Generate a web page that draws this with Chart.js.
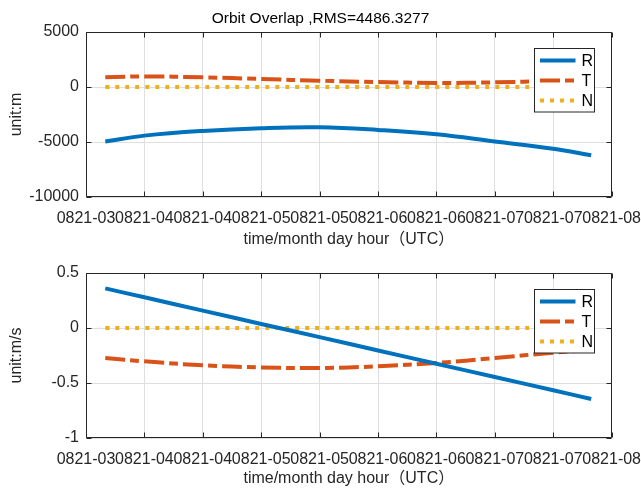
<!DOCTYPE html>
<html><head><meta charset="utf-8">
<script src="https://cdn.jsdelivr.net/npm/chart.js@4.4.0/dist/chart.umd.min.js"></script>
<style>
html,body{margin:0;padding:0;background:#fff;overflow:hidden;width:641px;height:488px}
canvas{display:block;position:absolute;left:0}
#c1{top:0}
#c2{top:249px}
</style></head>
<body>
<canvas id="c1" width="641" height="249"></canvas>
<canvas id="c2" width="641" height="239"></canvas>
<script>
// ---- data ----
const xTickLabels = ['0821-03','0821-04','0821-04','0821-05','0821-05','0821-06','0821-06','0821-07','0821-07','0821-08'];
const hours = [3.665, 4.0, 4.5, 5.0, 5.5, 6.0, 6.5, 7.0, 7.5, 7.825];
const posR = [-4950, -4420, -3990, -3740, -3660, -3900, -4290, -4950, -5620, -6210];
const posT = [880, 960, 880, 730, 570, 455, 370, 420, 560, 700];
const posN = [0, 0, 0, 0, 0, 0, 0, 0, 0, 0];
const velR = [0.36, 0.279, 0.158, 0.037, -0.083, -0.204, -0.325, -0.446, -0.566, -0.645];
const velT = [-0.273, -0.303, -0.339, -0.358, -0.364, -0.348, -0.318, -0.273, -0.224, -0.2];
const velN = [0, 0, 0, 0, 0, 0, 0, 0, 0, 0];
const posTickLabels = ['-10000', '-5000', '0', '5000'];
const velTickLabels = ['-1', '-0.5', '0', '0.5'];
const seriesNames = ['R', 'T', 'N'];
const titleText = 'Orbit Overlap ,RMS=4486.3277';
const xTitle = 'time/month day hour（UTC）';

const FONT = "'Liberation Sans', Arial, 'Noto Sans CJK SC', sans-serif";
const INK = '#262626';
const COLORS = ['#0072BD', '#D95319', '#EDB120'];
const DASHES = [[], [20, 5, 9, 5], [4, 6]];

function pts(ys){ return hours.map((h,i)=>({x:h, y:ys[i]})); }
function makeDatasets(arrs){
  return arrs.map((a,i)=>({
    label: seriesNames[i], data: pts(a), borderColor: COLORS[i], backgroundColor: COLORS[i],
    borderWidth: 4, borderDash: DASHES[i], borderCapStyle: 'butt', pointRadius: 0,
    tension: 0.4, fill: false
  }));
}

const boxPlugin = {
  id: 'matlabBox',
  afterDatasetsDraw(chart){
    const {ctx, chartArea:a} = chart;
    const bw = 60, bh = 63.5;
    const bl = Math.round(a.right - 18 - bw) + 0.5, bt = Math.round(a.top + 16) + 0.5;
    ctx.save();
    ctx.fillStyle = '#fff';
    ctx.fillRect(bl, bt, bw, bh);
    ctx.strokeStyle = INK; ctx.lineWidth = 1; ctx.setLineDash([]);
    ctx.strokeRect(bl, bt, bw, bh);
    chart.data.datasets.forEach((ds,i)=>{
      const yy = bt + 12 + i*20;
      ctx.beginPath();
      ctx.strokeStyle = ds.borderColor; ctx.lineWidth = ds.borderWidth; ctx.lineCap = 'butt';
      ctx.setLineDash(ds.borderDash);
      ctx.moveTo(bl + 5.5, yy); ctx.lineTo(bl + 41, yy); ctx.stroke();
      ctx.setLineDash([]);
      ctx.fillStyle = '#000'; ctx.font = '16px ' + FONT; ctx.textBaseline = 'middle'; ctx.textAlign = 'left';
      ctx.fillText(ds.label, bl + 47, yy + 1);
    });
    ctx.restore();
  },
  afterDraw(chart){
    const {ctx, chartArea:a, scales:{x, y}} = chart;
    const l = Math.round(a.left)+0.5, r = Math.round(a.right)-0.5, t = Math.round(a.top)+0.5, b = Math.round(a.bottom)-0.5;
    ctx.save();
    ctx.strokeStyle = INK; ctx.lineWidth = 1; ctx.setLineDash([]);
    ctx.beginPath();
    ctx.rect(l, t, r-l, b-t);
    const L = 5;
    x.ticks.forEach(tk=>{
      const px = Math.round(x.getPixelForValue(tk.value)) + 0.5;
      ctx.moveTo(px, b); ctx.lineTo(px, b - L);
      ctx.moveTo(px, t); ctx.lineTo(px, t + L);
    });
    y.ticks.forEach(tk=>{
      const py = Math.round(y.getPixelForValue(tk.value)) + 0.5;
      ctx.moveTo(l, py); ctx.lineTo(l + L, py);
      ctx.moveTo(r, py); ctx.lineTo(r - L, py);
    });
    ctx.stroke();
    ctx.restore();
  }
};

function makeOptions(cfg){
  return {
    responsive: false, animation: false, devicePixelRatio: 1,
    layout: { padding: { top: cfg.padTop, right: 0, left: 0, bottom: cfg.padBottom } },
    plugins: {
      legend: { display: false }, tooltip: { enabled: false },
      title: cfg.title ? { display: true, text: cfg.title, color: '#000', font: { family: FONT, size: 15.5, weight: 'normal' }, padding: { top: 9, bottom: 4.4 } } : { display: false }
    },
    scales: {
      x: {
        type: 'linear', min: 3.5, max: 8,
        afterFit: s => { s.height = cfg.xHeight; },
        afterBuildTicks: s => { s.ticks = xTickLabels.map((_,i)=>({value: 3.5 + 0.5*i})); },
        ticks: { autoSkip: false, maxRotation: 0, minRotation: 0, padding: 0, color: INK,
          font: { family: FONT, size: 16 }, callback: (v, i) => xTickLabels[i] },
        grid: { color: '#dfdfdf', drawTicks: true, tickLength: 12, tickColor: 'rgba(0,0,0,0)', lineWidth: 1 },
        border: { display: false },
        title: { display: true, text: xTitle, color: INK, font: { family: FONT, size: 16 }, padding: { top: 0, bottom: cfg.xTitleBottom } }
      },
      y: {
        type: 'linear', min: cfg.yMin, max: cfg.yMax,
        afterFit: s => { s.width = 86; },
        afterBuildTicks: s => { s.ticks = cfg.yLabels.map(v=>({value: Number(v)})); },
        ticks: { padding: 7, color: INK, font: { family: FONT, size: 16 },
          callback: v => cfg.yLabels.find(lbl => Number(lbl) === v) },
        grid: { color: '#dfdfdf', drawTicks: false, lineWidth: 1 },
        border: { display: false },
        title: { display: true, text: cfg.yTitle, color: INK, font: { family: FONT, size: 16 }, padding: { top: 7, bottom: 0 } }
      },
      yRight: {
        type: 'linear', position: 'right', display: true, min: 0, max: 1,
        afterFit: s => { s.width = 29; },
        ticks: { display: false, padding: 0 }, grid: { display: false, drawTicks: false }, border: { display: false }
      }
    }
  };
}

new Chart(document.getElementById('c1'), {
  type: 'line',
  data: { datasets: makeDatasets([posR, posT, posN]) },
  options: makeOptions({ title: titleText, padTop: 0, padBottom: 0, xHeight: 52, xTitleBottom: 0, yMin: -10000, yMax: 5000, yLabels: posTickLabels, yTitle: 'unit:m' }),
  plugins: [boxPlugin]
});
new Chart(document.getElementById('c2'), {
  type: 'line',
  data: { datasets: makeDatasets([velR, velT, velN]) },
  options: makeOptions({ title: null, padTop: 24, padBottom: 0, xHeight: 50, xTitleBottom: 0, yMin: -1, yMax: 0.5, yLabels: velTickLabels, yTitle: 'unit:m/s' }),
  plugins: [boxPlugin]
});
</script>
</body></html>
